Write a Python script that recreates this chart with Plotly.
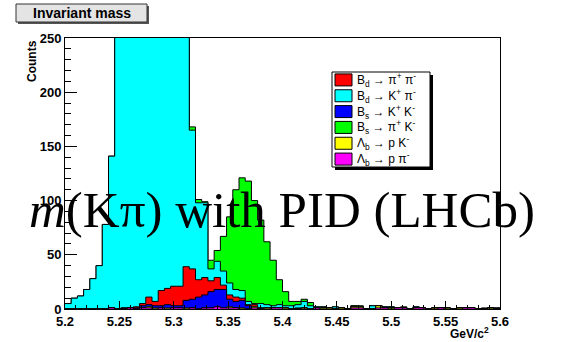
import numpy as np
import plotly.graph_objects as go

# ---------------- data ----------------
x_min, x_max, n_bins = 5.2, 5.6, 70
x_ticks = [5.2, 5.25, 5.3, 5.35, 5.4, 5.45, 5.5, 5.55, 5.6]
x_tick_labels = ["5.2", "5.25", "5.3", "5.35", "5.4", "5.45", "5.5", "5.55", "5.6"]
y_ticks = [0, 50, 100, 150, 200, 250]

legend_labels = [
    "B<sub>d</sub> → π<sup>+</sup> π<sup>-</sup>",
    "B<sub>d</sub> → K<sup>+</sup> π<sup>-</sup>",
    "B<sub>s</sub> → K<sup>+</sup> K<sup>-</sup>",
    "B<sub>s</sub> → π<sup>+</sup> K<sup>-</sup>",
    "Λ<sub>b</sub> → p K<sup>-</sup>",
    "Λ<sub>b</sub> → p π<sup>-</sup>",
]
legend_colors = ["#ff0000", "#00ffff", "#0000ff", "#00ff00", "#ffff00", "#ff00ff"]

bd_pipi = [0,0,0,0,0,0,0,0,0,0, 0,1,2,7,4,14,15,18,18,31,
           28,16,16,10,11,4,4,4,2,1, 2,0,0,0,0,0,0,1,0,0,
           0,0,0,0,0,0,0,0,0,0, 0,0,0,0,0,0,0,0,0,0,
           0,0,0,0,0,0,0,0,0,0]
bd_kpi = [5,10,12,18,28,40,78,140,275,380, 480,560,620,650,655,630,580,510,420,320,
          128,71,69,11,15,13,11,7,7,3, 1,4,3,2,3,2,3,3,6,3,
          1,1,0,2,0,0,1,0,0,3, 0,1,1,0,0,0,1,0,0,0,
          0,0,0,0,0,0,0,0,0,1]
bs_kk = [0,0,0,0,0,0,0,0,0,1, 0,1,2,2,2,2,3,2,2,7,
         8,11,12,15,16,17,7,6,7,3, 0,1,0,0,0,0,0,0,0,0,
         0,0,0,0,0,0,0,0,0,0, 0,0,0,0,0,0,0,0,0,0,
         0,0,0,0,0,0,0,0,0,0]
bs_pik = [0,0,0,0,0,0,0,0,0,0, 0,0,0,0,0,0,0,0,0,0,
          3,3,1,8,10,32,61,92,104,111, 95,77,58,42,23,13,4,3,2,3,
          0,0,0,0,0,0,0,1,0,0, 0,0,0,0,1,0,0,0,0,0,
          0,0,0,0,0,0,0,1,0,0]
lb_pk = [0,0,0,0,0,0,0,0,0,0, 0,0,0,1,1,0,1,0,0,1,
         0,0,0,0,0,0,1,0,1,0, 1,0,1,0,0,1,0,0,1,0,
         0,1,1,0,1,0,1,1,0,0, 2,0,1,0,0,0,0,0,0,1,
         0,1,0,1,0,0,0,0,1,0]
lb_ppi = [0,0,0,0,0,0,0,1,0,0, 1,0,1,1,0,1,0,1,1,0,
          1,0,1,1,2,1,1,1,0,0, 1,0,0,1,1,0,0,0,0,0,
          1,0,0,0,0,0,1,1,0,0, 1,1,0,1,1,0,1,1,0,0,
          1,0,0,0,1,1,0,0,0,0]

# ---------------- figure ----------------
W, H = 574, 342
L, R, T, B = 65, 500, 38, 309


def X(px):
    return (px - L) / (R - L)


def Y(py):
    return (B - py) / (B - T)


edges = np.linspace(x_min, x_max, n_bins + 1)
# stacking order bottom -> top
stack_order = [(lb_ppi, "#ff00ff"), (lb_pk, "#ffff00"), (bs_kk, "#0000ff"),
               (bd_pipi, "#ff0000"), (bd_kpi, "#00ffff"), (bs_pik, "#00ff00")]
cums = []
acc = np.zeros(n_bins)
for vals, col in stack_order:
    acc = acc + np.array(vals, dtype=float)
    cums.append((acc.copy(), col))

fig = go.Figure()
for cum, col in reversed(cums):
    yv = np.append(cum, cum[-1])
    fig.add_trace(go.Scatter(
        x=edges, y=yv, mode="lines", line=dict(shape="hv", color="black", width=1),
        fill="tozeroy", fillcolor=col, showlegend=False, hoverinfo="skip"))

tick_font = dict(family="Liberation Sans", size=13, color="black", weight="bold")
fig.update_xaxes(range=[x_min, x_max], tickvals=x_ticks, ticktext=x_tick_labels,
                 ticks="inside", ticklen=8, tickwidth=1, tickcolor="black",
                 minor=dict(ticks="inside", ticklen=4, dtick=0.01, tick0=5.2, tickcolor="black"),
                 showline=True, linecolor="black", linewidth=1, mirror=True,
                 showgrid=False, zeroline=False, tickfont=tick_font)
fig.update_yaxes(range=[0, 250], tickvals=y_ticks,
                 ticks="inside", ticklen=12, tickwidth=1, tickcolor="black",
                 minor=dict(ticks="inside", ticklen=6, dtick=10, tick0=0, tickcolor="black"),
                 showline=True, linecolor="black", linewidth=1, mirror=True,
                 showgrid=False, zeroline=False, tickfont=tick_font)

shapes = []
annotations = []

# title box "Invariant mass"
shapes.append(dict(type="rect", xref="paper", yref="paper", x0=X(18), x1=X(149), y0=Y(6), y1=Y(24),
                   fillcolor="#555555", line=dict(width=0), layer="above"))
shapes.append(dict(type="rect", xref="paper", yref="paper", x0=X(16), x1=X(147), y0=Y(4), y1=Y(22),
                   fillcolor="#e4e4e4", line=dict(color="#333333", width=1), layer="above"))
annotations.append(dict(xref="paper", yref="paper", x=X(81.5), y=Y(13), text="<b>Invariant mass</b>",
                        showarrow=False, xanchor="center", yanchor="middle",
                        font=dict(family="Liberation Sans", size=14, color="black")))

# legend box
lx0, lx1, ly0, ly1 = 332, 430, 72, 167
shapes.append(dict(type="rect", xref="paper", yref="paper", x0=X(lx0 + 3), x1=X(lx1 + 3),
                   y0=Y(ly0 + 3), y1=Y(ly1 + 3), fillcolor="black", line=dict(width=0), layer="above"))
shapes.append(dict(type="rect", xref="paper", yref="paper", x0=X(lx0), x1=X(lx1), y0=Y(ly0), y1=Y(ly1),
                   fillcolor="white", line=dict(color="black", width=1), layer="above"))
row_h = (ly1 - ly0) / 6.0
for k, (lab, col) in enumerate(zip(legend_labels, legend_colors)):
    cy = ly0 + row_h * (k + 0.5)
    shapes.append(dict(type="rect", xref="paper", yref="paper", x0=X(335), x1=X(352),
                       y0=Y(cy - 6), y1=Y(cy + 6), fillcolor=col,
                       line=dict(color="black", width=1), layer="above"))
    annotations.append(dict(xref="paper", yref="paper", x=X(355), y=Y(cy), text=lab,
                            showarrow=False, xanchor="left", yanchor="middle",
                            font=dict(family="Liberation Sans", size=12, color="black")))

# axis titles
annotations.append(dict(xref="paper", yref="paper", x=X(32), y=Y(38), text="<b>Counts</b>",
                        textangle=-90, showarrow=False, xanchor="center", yanchor="top",
                        font=dict(family="Liberation Sans", size=12, color="black")))
annotations.append(dict(xref="paper", yref="paper", x=X(491), y=Y(333), text="<b>GeV/c<sup>2</sup></b>",
                        showarrow=False, xanchor="right", yanchor="middle",
                        font=dict(family="Liberation Sans", size=12, color="black")))

# big overlay title
annotations.append(dict(xref="paper", yref="paper", x=X(27), y=Y(210),
                        text="<i>m</i>(Kπ) with PID (LHCb)",
                        showarrow=False, xanchor="left", yanchor="middle",
                        font=dict(family="Liberation Serif", size=51, color="black")))

fig.update_layout(width=W, height=H, margin=dict(l=L, r=W - R, t=T, b=H - B),
                  paper_bgcolor="white", plot_bgcolor="white",
                  shapes=shapes, annotations=annotations, showlegend=False)

fig.write_html("out.html")
